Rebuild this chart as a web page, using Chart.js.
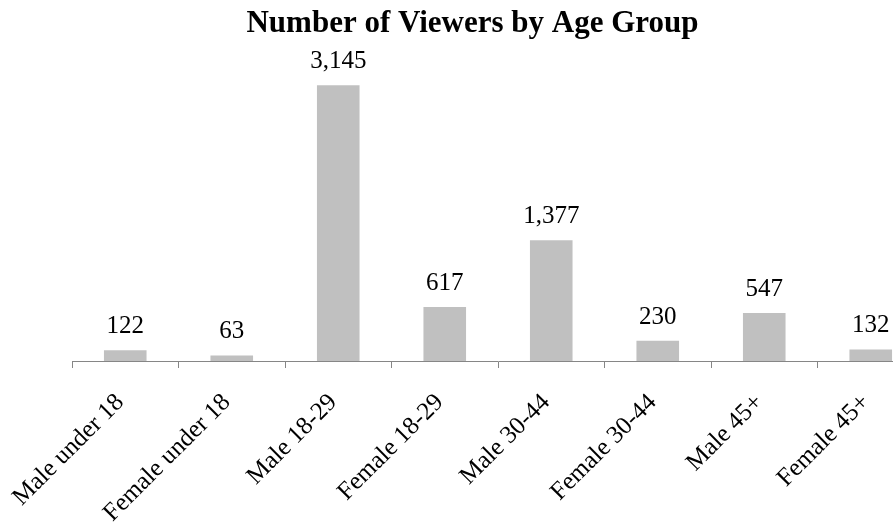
<!DOCTYPE html>
<html>
<head>
<meta charset="utf-8">
<script src="https://cdn.jsdelivr.net/npm/chart.js@4"></script>
<style>
  html, body { margin: 0; padding: 0; background: #fff; overflow: hidden; }
  #wrap { width: 945px; height: 525px; }
</style>
</head>
<body>
<div id="wrap"><canvas id="viewers"></canvas></div>
<script>
const groups = ["Male under 18", "Female under 18", "Male 18-29", "Female 18-29",
                "Male 30-44", "Female 30-44", "Male 45+", "Female 45+"];
const viewers = [122, 63, 3145, 617, 1377, 230, 547, 132];

const serif = "'Times New Roman', 'Liberation Serif', serif";

// values on top of the bars
const barLabels = {
  id: "barLabels",
  afterDatasetsDraw(chart) {
    const ctx = chart.ctx;
    const meta = chart.getDatasetMeta(0);
    ctx.save();
    ctx.font = "25px " + serif;
    ctx.fillStyle = "#000";
    ctx.textAlign = "center";
    ctx.textBaseline = "alphabetic";
    meta.data.forEach((bar, i) => {
      ctx.fillText(viewers[i].toLocaleString("en-US"), bar.x, bar.y - 17);
    });
    ctx.restore();
  }
};

new Chart(document.getElementById("viewers"), {
  type: "bar",
  data: {
    labels: groups,
    datasets: [{
      data: viewers,
      backgroundColor: "#c0c0c0",
      barPercentage: 0.4,
      categoryPercentage: 1
    }]
  },
  options: {
    responsive: true,
    maintainAspectRatio: false,
    animation: false,
    plugins: {
      legend: { display: false },
      tooltip: { enabled: false },
      title: {
        display: true,
        text: "Number of Viewers by Age Group",
        color: "#000",
        font: { family: serif, size: 31, weight: "bold" },
        padding: { top: 5, bottom: 12 }
      }
    },
    scales: {
      x: {
        offset: true,
        grid: { offset: true, drawOnChartArea: false, drawTicks: true, tickLength: 7, color: "#868686" },
        border: { display: true, color: "#868686", width: 1 },
        ticks: {
          color: "#000",
          font: { family: serif, size: 25 },
          minRotation: 45,
          maxRotation: 45,
          padding: 20,
          labelOffset: -5,
          autoSkip: false
        },
        afterFit(s) {
          s.height = 164;
          s.paddingLeft = 0;
          s.paddingRight = 0;
        }
      },
      y: {
        min: 0,
        max: 3500,
        grid: { display: false },
        border: { display: false },
        ticks: { display: false },
        afterFit(s) { s.width = 72; }
      },
      y2: {
        position: "right",
        grid: { display: false },
        border: { display: false },
        ticks: { display: false },
        afterFit(s) { s.width = 21; }
      }
    }
  },
  plugins: [barLabels]
});
</script>
</body>
</html>
